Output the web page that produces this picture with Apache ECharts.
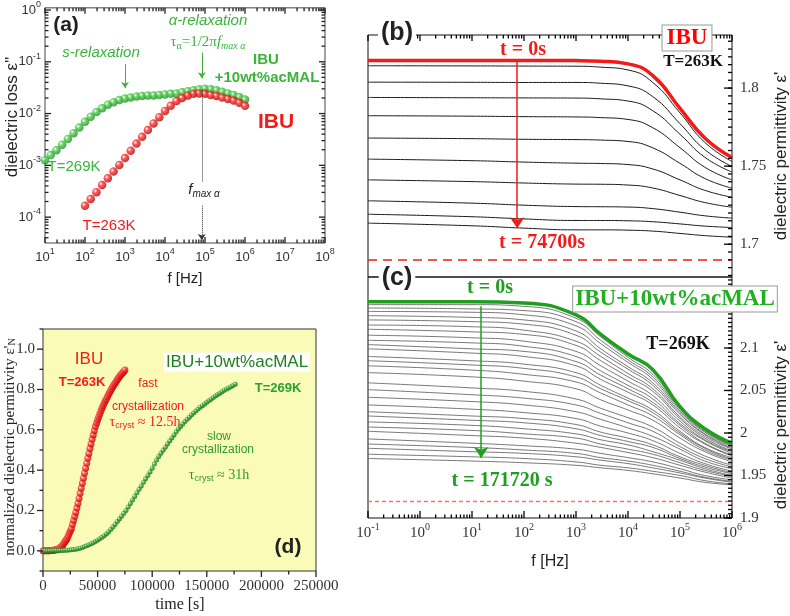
<!DOCTYPE html>
<html>
<head>
<meta charset="utf-8">
<script src="https://cdn.jsdelivr.net/npm/echarts@6/dist/echarts.min.js"></script>
<style>
  html, body { margin: 0; padding: 0; background: #fff; }
  #chart { width: 790px; height: 616px; }
</style>
</head>
<body>
<div id="chart"></div>
<script>
// ---- (a) dielectric loss spectra ----
const lossFreq = [10, 13.9, 19.3, 26.8, 37.3, 51.8, 72.0, 100, 139, 193, 268, 373, 518, 720, 1000, 1389, 1931, 2683, 3728, 5179, 7197, 10000, 13895, 19307, 26827, 37276, 51795, 71969, 100000, 138950, 193070, 268270, 372760, 517950, 719690, 1000000];
const lossMix = [1.26e-3, 1.58e-3, 1.95e-3, 2.51e-3, 3.24e-3, 4.17e-3, 5.37e-3, 6.92e-3, 8.71e-3, 1.07e-2, 1.26e-2, 1.48e-2, 1.66e-2, 1.82e-2, 1.95e-2, 2.04e-2, 2.14e-2, 2.19e-2, 2.24e-2, 2.24e-2, 2.29e-2, 2.34e-2, 2.40e-2, 2.45e-2, 2.57e-2, 2.69e-2, 2.82e-2, 2.95e-2, 3.02e-2, 2.95e-2, 2.82e-2, 2.63e-2, 2.45e-2, 2.29e-2, 2.09e-2, 1.86e-2];
const lossFreqIbu = [100, 139, 193, 268, 373, 518, 720, 1000, 1389, 1931, 2683, 3728, 5179, 7197, 10000, 13895, 19307, 26827, 37276, 51795, 71969, 100000, 138950, 193070, 268270, 372760, 517950, 719690, 1000000];
const lossIbu = [1.66e-4, 2.24e-4, 3.02e-4, 4.17e-4, 5.62e-4, 7.59e-4, 1.02e-3, 1.38e-3, 1.91e-3, 2.63e-3, 3.55e-3, 4.79e-3, 6.46e-3, 8.51e-3, 1.12e-2, 1.41e-2, 1.74e-2, 2.0e-2, 2.24e-2, 2.40e-2, 2.45e-2, 2.40e-2, 2.29e-2, 2.19e-2, 2.04e-2, 1.91e-2, 1.78e-2, 1.62e-2, 1.41e-2];
const lossFreqTicks = [1e1, 1e2, 1e3, 1e4, 1e5, 1e6, 1e7, 1e8];
const lossTicks = [1e-4, 1e-3, 1e-2, 1e-1, 1];

// ---- (b), (c) permittivity during crystallization ----
const permFreq = [0.1, 10, 100, 1000, 3000, 10000, 30000, 100000, 300000, 1000000];
const permFreqTicks = [0.1, 1, 10, 100, 1000, 10000, 100000, 1000000];
const ibuStart = [1.8177, 1.8177, 1.8177, 1.8176, 1.8172, 1.8155, 1.8080, 1.7870, 1.7680, 1.7555];
const ibuCurves = [
  [1.8143, 1.8142, 1.8141, 1.8140, 1.8134, 1.8116, 1.8036, 1.7841, 1.7652, 1.7530],
  [1.8038, 1.8037, 1.8036, 1.8036, 1.8031, 1.8014, 1.7945, 1.7772, 1.7606, 1.7498],
  [1.7940, 1.7938, 1.7937, 1.7936, 1.7931, 1.7917, 1.7855, 1.7704, 1.7557, 1.7462],
  [1.7823, 1.7820, 1.7817, 1.7815, 1.7811, 1.7799, 1.7746, 1.7618, 1.7493, 1.7412],
  [1.7680, 1.7676, 1.7672, 1.7670, 1.7667, 1.7658, 1.7617, 1.7518, 1.7421, 1.7359],
  [1.7545, 1.7535, 1.7526, 1.7519, 1.7517, 1.7510, 1.7482, 1.7412, 1.7345, 1.7301],
  [1.7412, 1.7401, 1.7392, 1.7385, 1.7384, 1.7379, 1.7360, 1.7312, 1.7267, 1.7237],
  [1.7278, 1.7263, 1.7250, 1.7241, 1.7240, 1.7238, 1.7228, 1.7205, 1.7182, 1.7167],
  [1.7192, 1.7176, 1.7162, 1.7152, 1.7152, 1.7150, 1.7144, 1.7130, 1.7116, 1.7107],
  [1.7135, 1.7118, 1.7103, 1.7092, 1.7092, 1.7090, 1.7084, 1.7069, 1.7055, 1.7045]
];
const ibuTicks = [1.7, 1.75, 1.8];
const ibuGlassLevel = 1.694;

const mixStart = [2.1545, 2.1545, 2.1530, 2.1390, 2.1160, 2.0930, 2.0745, 2.0310, 2.0050, 1.9880];
const mixCurves = [
  [2.151, 2.151, 2.149, 2.135, 2.113, 2.089, 2.069, 2.030, 2.004, 1.987],
  [2.147, 2.146, 2.144, 2.131, 2.109, 2.086, 2.066, 2.028, 2.002, 1.986],
  [2.143, 2.142, 2.139, 2.126, 2.105, 2.083, 2.063, 2.026, 2.001, 1.985],
  [2.138, 2.136, 2.133, 2.120, 2.099, 2.078, 2.059, 2.024, 1.999, 1.984],
  [2.133, 2.131, 2.128, 2.115, 2.095, 2.075, 2.056, 2.022, 1.998, 1.982],
  [2.127, 2.125, 2.121, 2.108, 2.090, 2.070, 2.052, 2.019, 1.996, 1.981],
  [2.122, 2.119, 2.116, 2.103, 2.085, 2.066, 2.049, 2.017, 1.994, 1.979],
  [2.115, 2.112, 2.108, 2.096, 2.079, 2.061, 2.044, 2.014, 1.992, 1.978],
  [2.109, 2.106, 2.102, 2.090, 2.073, 2.056, 2.040, 2.011, 1.991, 1.976],
  [2.104, 2.099, 2.096, 2.084, 2.068, 2.052, 2.036, 2.009, 1.988, 1.974],
  [2.099, 2.094, 2.090, 2.079, 2.063, 2.048, 2.033, 2.006, 1.987, 1.973],
  [2.090, 2.085, 2.081, 2.071, 2.056, 2.041, 2.027, 2.002, 1.983, 1.971],
  [2.085, 2.080, 2.076, 2.066, 2.052, 2.038, 2.024, 2.000, 1.982, 1.969],
  [2.079, 2.074, 2.069, 2.060, 2.047, 2.033, 2.020, 1.998, 1.980, 1.968],
  [2.071, 2.066, 2.061, 2.052, 2.039, 2.027, 2.015, 1.994, 1.978, 1.966],
  [2.059, 2.053, 2.049, 2.040, 2.029, 2.018, 2.007, 1.988, 1.973, 1.962],
  [2.051, 2.045, 2.041, 2.033, 2.023, 2.012, 2.002, 1.984, 1.970, 1.960],
  [2.042, 2.037, 2.033, 2.025, 2.016, 2.006, 1.996, 1.981, 1.967, 1.958],
  [2.033, 2.028, 2.024, 2.017, 2.008, 2.000, 1.991, 1.976, 1.964, 1.955],
  [2.025, 2.020, 2.017, 2.010, 2.001, 1.994, 1.986, 1.972, 1.962, 1.953],
  [2.020, 2.015, 2.012, 2.005, 1.997, 1.990, 1.983, 1.970, 1.960, 1.952],
  [2.013, 2.009, 2.005, 1.999, 1.992, 1.986, 1.978, 1.968, 1.958, 1.950],
  [2.007, 2.003, 1.999, 1.994, 1.987, 1.981, 1.975, 1.965, 1.956, 1.949],
  [2.002, 1.997, 1.994, 1.988, 1.983, 1.977, 1.971, 1.962, 1.954, 1.947],
  [1.993, 1.988, 1.985, 1.981, 1.976, 1.971, 1.966, 1.958, 1.950, 1.945],
  [1.987, 1.983, 1.980, 1.976, 1.971, 1.967, 1.962, 1.955, 1.948, 1.943],
  [1.982, 1.978, 1.976, 1.972, 1.968, 1.964, 1.959, 1.953, 1.947, 1.942],
  [1.975, 1.972, 1.970, 1.966, 1.962, 1.959, 1.955, 1.950, 1.944, 1.940],
  [1.970, 1.967, 1.965, 1.962, 1.959, 1.956, 1.952, 1.947, 1.942, 1.939]
];
const mixTicks = [1.9, 1.95, 2, 2.05, 2.1];
const mixGlassLevel = 1.916;

// ---- (d) normalized permittivity vs time ----
const ibuTime = [0, 1000, 2000, 3000, 4000, 5000, 6000, 7000, 8000, 9000,
  10000, 11000, 12000, 13000, 14000, 15000, 16000, 17000, 18000, 19000,
  20000, 21000, 22000, 23000, 24000, 25000, 26000, 27000, 28000, 29000,
  30000, 31000, 32000, 33000, 34000, 35000, 36000, 37000, 38000, 39000,
  40000, 41000, 42000, 43000, 44000, 45000, 46000, 47000, 48000, 49000,
  50000, 51000, 52000, 53000, 54000, 55000, 56000, 57000, 58000, 59000,
  60000, 61000, 62000, 63000, 64000, 65000, 66000, 67000, 68000, 69000,
  70000, 71000, 72000, 73000, 74000, 75000];
const ibuNorm = [0.000, 0.000, 0.000, 0.000, 0.001, 0.001, 0.001, 0.002, 0.002, 0.003,
  0.003, 0.004, 0.005, 0.007, 0.009, 0.012, 0.016, 0.021, 0.028, 0.036,
  0.045, 0.052, 0.060, 0.072, 0.086, 0.098, 0.110, 0.130, 0.150, 0.170,
  0.190, 0.212, 0.235, 0.260, 0.285, 0.310, 0.335, 0.360, 0.385, 0.410,
  0.434, 0.459, 0.483, 0.507, 0.530, 0.553, 0.575, 0.596, 0.616, 0.633,
  0.649, 0.664, 0.679, 0.693, 0.707, 0.720, 0.732, 0.743, 0.753, 0.764,
  0.775, 0.785, 0.795, 0.805, 0.815, 0.823, 0.831, 0.840, 0.848, 0.856,
  0.864, 0.871, 0.877, 0.883, 0.889, 0.897];
const mixTime = [0, 2000, 4000, 6000, 8000, 10000, 12000, 14000, 16000, 18000,
  20000, 22000, 24000, 26000, 28000, 30000, 32000, 34000, 36000, 38000,
  40000, 42000, 44000, 46000, 48000, 50000, 52000, 54000, 56000, 58000,
  60000, 62000, 64000, 66000, 68000, 70000, 72000, 74000, 76000, 78000,
  80000, 82000, 84000, 86000, 88000, 90000, 92000, 94000, 96000, 98000,
  100000, 102000, 104000, 106000, 108000, 110000, 112000, 114000, 116000, 118000,
  120000, 122000, 124000, 126000, 128000, 130000, 132000, 134000, 136000, 138000,
  140000, 142000, 144000, 146000, 148000, 150000, 152000, 154000, 156000, 158000,
  160000, 162000, 164000, 166000, 168000, 170000, 172000, 174000, 176000];
const mixNorm = [0.000, 0.000, 0.000, 0.000, 0.000, 0.001, 0.001, 0.001, 0.002, 0.002,
  0.003, 0.003, 0.004, 0.005, 0.006, 0.008, 0.010, 0.013, 0.017, 0.021,
  0.025, 0.030, 0.035, 0.040, 0.046, 0.053, 0.060, 0.067, 0.075, 0.084,
  0.094, 0.106, 0.118, 0.131, 0.145, 0.158, 0.172, 0.186, 0.200, 0.217,
  0.235, 0.252, 0.270, 0.288, 0.305, 0.322, 0.340, 0.357, 0.374, 0.391,
  0.410, 0.430, 0.450, 0.468, 0.484, 0.499, 0.514, 0.530, 0.545, 0.560,
  0.575, 0.590, 0.604, 0.617, 0.629, 0.641, 0.652, 0.663, 0.673, 0.683,
  0.693, 0.703, 0.712, 0.720, 0.728, 0.737, 0.745, 0.752, 0.760, 0.768,
  0.775, 0.782, 0.789, 0.796, 0.802, 0.808, 0.814, 0.820, 0.826];
const timeTicks = [0, 50000, 100000, 150000, 200000, 250000];
const timeMinorTicks = [25000, 75000, 125000, 175000, 225000];
const normTicks = [0, 0.2, 0.4, 0.6, 0.8, 1.0];
const normMinorTicks = [-0.1, 0.1, 0.3, 0.5, 0.7, 0.9, 1.1];

const SANS = '"Liberation Sans", Arial, sans-serif';
const SERIF = '"Liberation Serif", "Times New Roman", serif';
const RED = '#f41a1a';
const GREEN_A = '#3cb43c';

const lossYMin = 3.1623e-5, lossYMax = 1.1;
const permIbuMin = 1.679, permIbuMax = 1.834;
const permMixMin = 1.9, permMixMax = 2.1835;

// minor tick helpers (axis decoration only)
function logMinor(lo, hi) {
  const out = [];
  for (let e = Math.floor(Math.log10(lo)); e < Math.ceil(Math.log10(hi)); e++) {
    for (let m = 2; m < 10; m++) {
      const v = m * Math.pow(10, e);
      if (v > lo && v < hi) out.push(v);
    }
  }
  return out;
}
function linMinor(lo, hi, step) {
  const out = [];
  for (let k = Math.ceil(lo / step - 1e-6); k * step <= hi + 1e-9; k++) out.push(+(k * step).toFixed(4));
  return out;
}
function sup10(v) { return '10{s|' + Math.round(Math.log10(v)) + '}'; }
function zip(xs, ys) { return xs.map((x, i) => [x, ys[i]]); }
function ball(light, dark) {
  return { type: 'radial', x: 0.35, y: 0.35, r: 0.7,
    colorStops: [{ offset: 0, color: '#ffffff' }, { offset: 0.35, color: light }, { offset: 1, color: dark }] };
}

// tick marks on the frame, placed through the axis scales (custom series)
// side: bottom/top/left/right; len > 0 points into the plot, < 0 outward
function ticks(axisIdx, values, ref, side, len, color) {
  const isX = side === 'bottom' || side === 'top';
  return {
    type: 'custom', xAxisIndex: axisIdx, yAxisIndex: axisIdx, silent: true, clip: false, z: 10,
    data: values.map(v => isX ? [v, ref] : [ref, v]),
    renderItem: function (params, api) {
      const cs = params.coordSys;
      const p = api.coord([api.value(0), api.value(1)]);
      let shape;
      if (isX) {
        const y0 = side === 'bottom' ? cs.y + cs.height : cs.y;
        const d = side === 'bottom' ? -len : len;
        shape = { x1: p[0], y1: y0, x2: p[0], y2: y0 + d };
      } else {
        const x0 = side === 'left' ? cs.x : cs.x + cs.width;
        const d = side === 'left' ? len : -len;
        shape = { x1: x0, y1: p[1], x2: x0 + d, y2: p[1] };
      }
      return { type: 'line', shape: shape, style: { stroke: color, lineWidth: 1.3 } };
    }
  };
}

function axisBase(extra) {
  return Object.assign({
    axisLine: { show: false, onZero: false },
    axisTick: { show: false },
    splitLine: { show: false },
    axisLabel: { show: false }
  }, extra);
}

const xAxis = [
  axisBase({ gridIndex: 0, type: 'log', position: 'bottom', min: 10, max: 1e8,
    axisLabel: { show: true, customValues: lossFreqTicks, formatter: sup10, fontFamily: SANS, fontSize: 13, lineHeight: 20, color: '#333', margin: 4,
      rich: { s: { fontSize: 9, fontFamily: SANS, verticalAlign: 'top', lineHeight: 11, color: '#333' } } } }),
  axisBase({ gridIndex: 1, type: 'log', position: 'top', min: 0.1, max: 1e6 }),
  axisBase({ gridIndex: 2, type: 'log', position: 'bottom', min: 0.1, max: 1e6,
    axisLabel: { show: true, customValues: permFreqTicks, formatter: sup10, fontFamily: SERIF, fontSize: 15, lineHeight: 22, color: '#333', margin: 4,
      rich: { s: { fontSize: 10, fontFamily: SERIF, verticalAlign: 'top', lineHeight: 12, color: '#333' } } } }),
  axisBase({ gridIndex: 3, type: 'value', position: 'bottom', min: 0, max: 250000,
    axisLabel: { show: true, customValues: timeTicks, formatter: v => String(v), fontFamily: SERIF, fontSize: 15, color: '#333', margin: 8 } })
];

const yAxis = [
  axisBase({ gridIndex: 0, type: 'log', position: 'left', min: lossYMin, max: lossYMax,
    axisLabel: { show: true, customValues: lossTicks, formatter: sup10, fontFamily: SANS, fontSize: 13, lineHeight: 20, color: '#333', margin: 4,
      rich: { s: { fontSize: 9, fontFamily: SANS, verticalAlign: 'top', lineHeight: 11, color: '#333' } } } }),
  axisBase({ gridIndex: 1, type: 'value', position: 'right', min: permIbuMin, max: permIbuMax,
    axisLabel: { show: true, customValues: ibuTicks, formatter: v => String(v), fontFamily: SERIF, fontSize: 15, color: '#333', margin: 8 } }),
  axisBase({ gridIndex: 2, type: 'value', position: 'right', min: permMixMin, max: permMixMax,
    axisLabel: { show: true, customValues: mixTicks, formatter: v => String(v), fontFamily: SERIF, fontSize: 15, color: '#333', margin: 8 } }),
  axisBase({ gridIndex: 3, type: 'value', position: 'left', min: -0.1, max: 1.1,
    axisLabel: { show: true, customValues: normTicks, formatter: v => v.toFixed(1), fontFamily: SERIF, fontSize: 15, color: '#333', margin: 8 } })
];

const series = [];
// (a)
series.push({
  type: 'scatter', xAxisIndex: 0, yAxisIndex: 0, data: zip(lossFreq, lossMix), symbolSize: 8.5,
  itemStyle: { color: ball('#4ccc4c', '#1f8a1f') },
  markLine: {
    silent: true, symbol: ['none', 'arrow'], symbolSize: 6, label: { show: false },
    data: [
      [{ coord: [1000, 0.09], lineStyle: { color: GREEN_A, width: 1, type: 'solid' } }, { coord: [1000, 0.031] }],
      [{ coord: [83000, 0.15], lineStyle: { color: GREEN_A, width: 1, type: 'solid' } }, { coord: [83000, 0.048] }],
      [{ coord: [83000, 0.028], symbol: 'none', lineStyle: { color: '#333', width: 1, type: 'dotted' } }, { coord: [83000, 4.7e-4], symbol: 'none' }],
      [{ coord: [83000, 1.66e-4], lineStyle: { color: '#333', width: 1, type: 'dotted' } }, { coord: [83000, 3.6e-5] }]
    ]
  }
});
series.push({
  type: 'scatter', xAxisIndex: 0, yAxisIndex: 0, data: zip(lossFreqIbu, lossIbu), symbolSize: 8.5,
  itemStyle: { color: ball('#ff3030', '#b00000') }
});
// (b)
ibuCurves.forEach((c, i) => {
  const s = {
    type: 'line', xAxisIndex: 1, yAxisIndex: 1, data: zip(permFreq, c), showSymbol: false, smooth: 0.5,
    lineStyle: { color: '#1a1a1a', width: 1 }
  };
  if (i === 0) {
    s.markLine = { silent: true, symbol: ['none', 'none'], label: { show: false },
      lineStyle: { color: RED, width: 1.5, type: [9, 6] }, data: [{ yAxis: ibuGlassLevel }] };
  }
  series.push(s);
});
series.push({
  type: 'line', xAxisIndex: 1, yAxisIndex: 1, data: zip(permFreq, ibuStart), showSymbol: false, smooth: 0.5,
  lineStyle: { color: RED, width: 3.5 }, z: 4,
  markLine: { silent: true, symbol: ['none', 'arrow'], symbolSize: 11, label: { show: false },
    lineStyle: { color: RED, width: 1.5, type: 'solid' },
    data: [[{ coord: [74, 1.8177] }, { coord: [74, 1.7103] }]] }
});
// (c)
mixCurves.forEach((c, i) => {
  const s = {
    type: 'line', xAxisIndex: 2, yAxisIndex: 2, data: zip(permFreq, c), showSymbol: false, smooth: 0.5,
    lineStyle: { color: '#555', width: 0.8 }
  };
  if (i === 0) {
    s.markLine = { silent: true, symbol: ['none', 'none'], label: { show: false },
      lineStyle: { color: '#ff6b6b', width: 1.3, type: [4, 3] }, data: [{ yAxis: mixGlassLevel }] };
  }
  series.push(s);
});
series.push({
  type: 'line', xAxisIndex: 2, yAxisIndex: 2, data: zip(permFreq, mixStart), showSymbol: false, smooth: 0.5,
  lineStyle: { color: '#1f9e1f', width: 3.5 }, z: 4,
  markLine: { silent: true, symbol: ['none', 'arrow'], symbolSize: 11, label: { show: false },
    lineStyle: { color: '#1f9e1f', width: 1.5, type: 'solid' },
    data: [[{ coord: [15, 2.149] }, { coord: [15, 1.9706] }]] }
});
// (d)
series.push({
  type: 'scatter', xAxisIndex: 3, yAxisIndex: 3, data: zip(ibuTime, ibuNorm), symbolSize: 7,
  itemStyle: { color: ball('#ff3a3a', '#c00000') }
});
series.push({
  type: 'scatter', xAxisIndex: 3, yAxisIndex: 3, data: zip(mixTime, mixNorm), symbolSize: 5,
  itemStyle: { color: ball('#3aa83a', '#176a17') }
});

// frame ticks
const GA = '#222', GB = '#000', GD = '#222';
series.push(
  ticks(0, lossFreqTicks, 1, 'bottom', 6, GA), ticks(0, logMinor(10, 1e8), 1, 'bottom', 3.5, GA),
  ticks(0, lossFreqTicks, 1, 'top', 6, GA), ticks(0, logMinor(10, 1e8), 1, 'top', 3.5, GA),
  ticks(0, lossTicks, 100, 'left', 6, GA), ticks(0, logMinor(lossYMin, lossYMax), 100, 'left', 3.5, GA),
  ticks(0, lossTicks, 100, 'right', 6, GA), ticks(0, logMinor(lossYMin, lossYMax), 100, 'right', 3.5, GA),
  ticks(1, permFreqTicks, 1.75, 'top', 6, GB), ticks(1, logMinor(0.1, 1e6), 1.75, 'top', 3.5, GB),
  ticks(1, ibuTicks, 1, 'right', 8, GB), ticks(1, linMinor(permIbuMin, permIbuMax, 0.005), 1, 'right', 4, GB),
  ticks(2, permFreqTicks, 2, 'bottom', 7, GB), ticks(2, logMinor(0.1, 1e6), 2, 'bottom', 3.5, GB),
  ticks(2, mixTicks, 1, 'right', 8, GB), ticks(2, linMinor(permMixMin, permMixMax, 0.005), 1, 'right', 4, GB),
  ticks(3, timeTicks, 0.5, 'bottom', -6, GD), ticks(3, timeMinorTicks, 0.5, 'bottom', -3.5, GD),
  ticks(3, normTicks, 1000, 'left', -6, GD), ticks(3, normMinorTicks, 1000, 'left', -3.5, GD)
);

// text annotations
function T(x, y, text, style, extra) {
  return Object.assign({
    type: 'text', x: x, y: y, z: 100,
    style: Object.assign({ text: text, align: 'center', verticalAlign: 'middle', textAlign: 'center', textVerticalAlign: 'middle',
      fontFamily: SANS, fontSize: 14, fill: '#222' }, style)
  }, extra || {});
}
const ROT = { rotation: Math.PI / 2 };
const graphic = [
  // (a)
  T(66, 25, '(a)', { fontSize: 21, fontWeight: 'bold' }),
  T(101, 53, 's-relaxation', { fontSize: 15, fontStyle: 'italic', fill: GREEN_A }),
  T(208, 21, 'α-relaxation', { fontSize: 15, fontStyle: 'italic', fill: GREEN_A }),
  T(208, 42, '{t|τ}{s|α}{t|=1/2π}{f|f}{fs|max α}', { fill: GREEN_A, rich: {
    t: { fontFamily: SERIF, fontSize: 15, fill: GREEN_A, lineHeight: 18 },
    s: { fontFamily: SERIF, fontSize: 10, fill: GREEN_A, verticalAlign: 'bottom', lineHeight: 10 },
    f: { fontFamily: SERIF, fontSize: 15, fontStyle: 'italic', fill: GREEN_A, lineHeight: 18 },
    fs: { fontFamily: SERIF, fontSize: 10, fontStyle: 'italic', fill: GREEN_A, verticalAlign: 'bottom', lineHeight: 10 } } }),
  T(266, 60, 'IBU', { fontSize: 15, fontWeight: 'bold', fill: GREEN_A }),
  T(267, 78, '+10wt%acMAL', { fontSize: 15, fontWeight: 'bold', fill: GREEN_A }),
  T(276, 122, 'IBU', { fontSize: 21, fontWeight: 'bold', fill: RED }),
  T(74, 167, 'T=269K', { fontSize: 15, fill: GREEN_A }),
  T(109, 226, 'T=263K', { fontSize: 15, fill: RED }),
  T(204, 190, '{f|f}{fs|max α}', { rich: {
    f: { fontFamily: SANS, fontSize: 15, fontStyle: 'italic', fill: '#222', lineHeight: 18 },
    fs: { fontFamily: SANS, fontSize: 10, fontStyle: 'italic', fill: '#222', verticalAlign: 'bottom', lineHeight: 10 } } }),
  T(185, 279, 'f [Hz]', { fontSize: 15 }),
  T(12, 117, 'dielectric loss ε"', { fontSize: 17 }, ROT),
  // (b)
  T(397, 33, '(b)', { fontSize: 25, fontWeight: 'bold', backgroundColor: '#fff', padding: [0, 3] }),
  T(687, 38, 'IBU', { fontFamily: SERIF, fontSize: 23, fontWeight: 'bold', fill: '#f00', backgroundColor: '#fff', borderColor: '#999', borderWidth: 1, padding: [2, 4, 0, 4] }),
  T(523, 50, 't = 0s', { fontFamily: SERIF, fontSize: 20, fontWeight: 'bold', fill: RED }),
  T(693, 62, 'T=263K', { fontFamily: SERIF, fontSize: 17, fontWeight: 'bold', fill: '#111' }),
  T(542, 243, 't = 74700s', { fontFamily: SERIF, fontSize: 20, fontWeight: 'bold', fill: RED }),
  T(781, 156, "dielectric permittivity ε'", { fontSize: 17 }, ROT),
  // (c)
  T(397, 278, '(c)', { fontSize: 25, fontWeight: 'bold', backgroundColor: '#fff', padding: [0, 3] }),
  T(490, 288, 't = 0s', { fontFamily: SERIF, fontSize: 20, fontWeight: 'bold', fill: '#1f9e1f' }),
  T(675, 299, 'IBU+10wt%acMAL', { fontFamily: SERIF, fontSize: 23, fontWeight: 'bold', fill: '#22b022', backgroundColor: '#fff', borderColor: '#999', borderWidth: 1, padding: [2, 2, 0, 2] }),
  T(678, 344, 'T=269K', { fontFamily: SERIF, fontSize: 18, fontWeight: 'bold', fill: '#111' }),
  T(502, 481, 't = 171720 s', { fontFamily: SERIF, fontSize: 20, fontWeight: 'bold', fill: '#1f9e1f' }),
  T(550, 562, 'f [Hz]', { fontSize: 16 }),
  T(781, 425, "dielectric permittivity ε'", { fontSize: 17 }, ROT),
  // (d)
  T(89, 359, 'IBU', { fontSize: 17, fill: RED }),
  T(82, 382, 'T=263K', { fontSize: 13, fontWeight: 'bold', fill: RED }),
  T(237, 362, 'IBU+10wt%acMAL', { fontSize: 17, fill: '#1f7f1f', backgroundColor: '#fff', padding: [1, 2] }),
  T(278, 388, 'T=269K', { fontSize: 13, fontWeight: 'bold', fill: '#2ea02e' }),
  T(148, 384, 'fast', { fontSize: 12, fill: RED }),
  T(148, 407, 'crystallization', { fontSize: 12, fill: RED }),
  T(145, 422, '{t|τ}{s|cryst}{t| ≈ 12.5h}', { rich: {
    t: { fontFamily: SERIF, fontSize: 14, fill: RED, lineHeight: 17 },
    s: { fontFamily: SANS, fontSize: 9, fill: RED, verticalAlign: 'bottom', lineHeight: 9 } } }),
  T(219, 437, 'slow', { fontSize: 12, fill: '#2e9a2e' }),
  T(218, 450, 'crystallization', { fontSize: 12, fill: '#2e9a2e' }),
  T(219, 475, '{t|τ}{s|cryst}{t| ≈ 31h}', { rich: {
    t: { fontFamily: SERIF, fontSize: 14, fill: '#2e9a2e', lineHeight: 17 },
    s: { fontFamily: SANS, fontSize: 9, fill: '#2e9a2e', verticalAlign: 'bottom', lineHeight: 9 } } }),
  T(288, 547, '(d)', { fontSize: 21, fontWeight: 'bold' }),
  T(180, 605, 'time [s]', { fontFamily: SERIF, fontSize: 16 }),
  T(10, 447, "normalized dielectric permitivity ε'{n|N}", { fontFamily: SERIF, fontSize: 15, rich: {
    n: { fontFamily: SERIF, fontSize: 10, verticalAlign: 'bottom', fill: '#222', lineHeight: 10 } } }, ROT)
];

const option = {
  animation: false,
  grid: [
    { left: 45, top: 5, width: 280, height: 238, show: true, borderColor: '#444', borderWidth: 1, backgroundColor: 'transparent' },
    { left: 368, top: 35, width: 364, height: 242, show: true, borderColor: '#111', borderWidth: 1, backgroundColor: 'transparent' },
    { left: 368, top: 277, width: 364, height: 241, show: true, borderColor: '#111', borderWidth: 1, backgroundColor: 'transparent' },
    { left: 43, top: 329, width: 273, height: 242, show: true, borderColor: '#333', borderWidth: 1, backgroundColor: '#fbfbb8' }
  ],
  xAxis: xAxis,
  yAxis: yAxis,
  series: series,
  graphic: graphic
};

const chart = echarts.init(document.getElementById('chart'));
chart.setOption(option);
</script>
</body>
</html>
